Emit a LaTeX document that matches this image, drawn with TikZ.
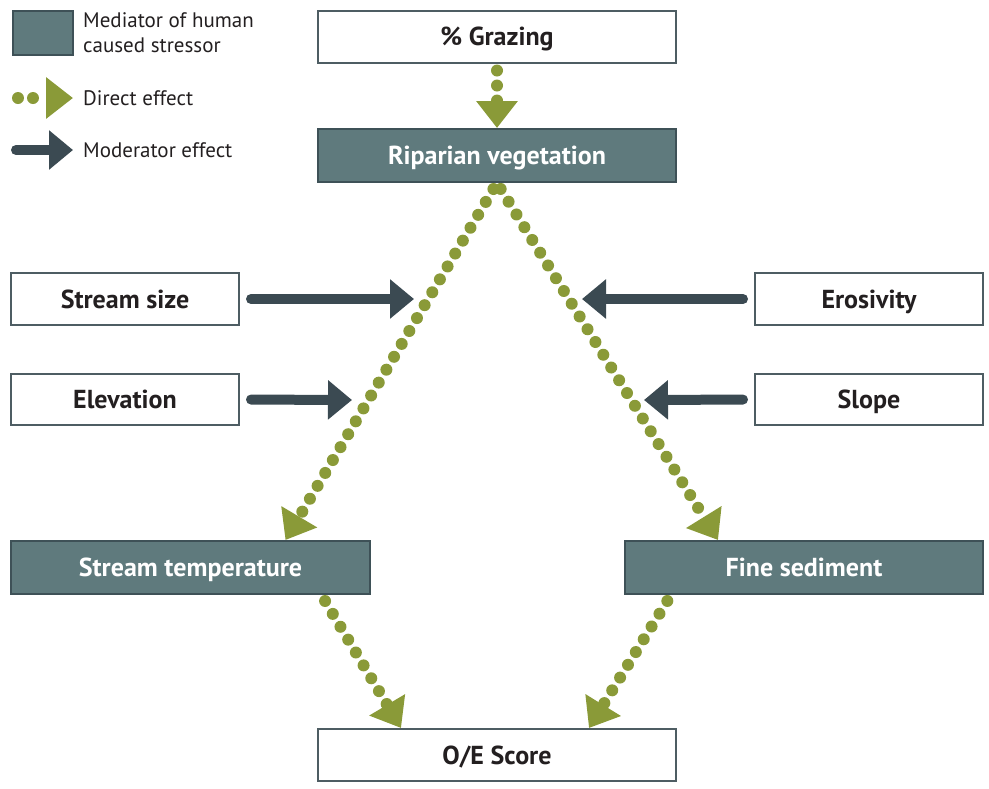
\documentclass[tikz,border=0pt]{standalone}
\usepackage{fontspec}
\setmainfont{PT Sans}
\usetikzlibrary{arrows.meta,calc}
\definecolor{tealfill}{HTML}{5F7A7D}
\definecolor{tealedge}{HTML}{3E5157}
\definecolor{boxedge}{HTML}{4E5D63}
\definecolor{dgreen}{HTML}{8A9A38}
\definecolor{slate}{HTML}{3B4A52}
\definecolor{txt}{HTML}{231F20}
\tikzset{
  boxfont/.style={font=\fontsize{26}{30}\selectfont\bfseries, inner sep=0pt,
    text height=18.5pt, text depth=0pt},
  whitebox/.style={draw=boxedge, line width=2pt, fill=white, text=txt, boxfont},
  mediator/.style={draw=tealedge, line width=2pt, fill=tealfill, text=white, boxfont},
  direct/.style={draw=dgreen, line width=12pt, line cap=round,
    dash pattern=on 0pt off 15pt,
    -{Triangle[width=40pt,length=27pt,fill=dgreen]}},
  moder/.style={draw=slate, line width=10pt, line cap=round,
    -{Triangle[width=38pt,length=24pt,fill=slate]}},
  legtext/.style={text=txt, font=\fontsize{21}{25}\selectfont, anchor=west, inner sep=0pt, align=left}
}
\begin{document}
\begin{tikzpicture}[x=1pt,y=-1pt]
\useasboundingbox (0,0) rectangle (989,788);
% legend
\node[draw=tealedge, line width=2pt, fill=tealfill, minimum width=60pt, minimum height=44pt, inner sep=0pt] (leg) at (43,33) {};
\node[legtext] (legt) at (83,33) {Mediator of human\\caused stressor};
\coordinate (d1) at (18,98);
\coordinate (d2) at (73,98);
\draw[direct] (d1) -- (d2);
\node[legtext] (dt) at (83,98) {Direct effect};
\coordinate (m1) at (16,150);
\coordinate (m2) at (73,150);
\draw[moder] (m1) -- (m2);
\node[legtext] (mt) at (83,150) {Moderator effect};
% boxes
\node[whitebox, minimum width=358pt, minimum height=52pt] (graz) at (497,36.5) {\% Grazing};
\node[mediator, minimum width=358pt, minimum height=53pt] (rip) at (497,155.5) {Riparian vegetation};
\node[whitebox, minimum width=228pt, minimum height=52pt] (ssize) at (125,299) {Stream size};
\node[whitebox, minimum width=228pt, minimum height=51pt] (elev) at (125,399.5) {Elevation};
\node[whitebox, minimum width=228pt, minimum height=52pt] (eros) at (869,299) {Erosivity};
\node[whitebox, minimum width=228pt, minimum height=51pt] (slope) at (869,399.5) {Slope};
\node[mediator, minimum width=359pt, minimum height=53pt] (stemp) at (190.5,567.5) {Stream temperature};
\node[mediator, minimum width=358pt, minimum height=53pt] (fsed) at (804,567.5) {Fine sediment};
\node[whitebox, minimum width=358pt, minimum height=52pt] (oe) at (497,755) {O/E Score};
% direct effects
\draw[direct, shorten <=7pt] (graz.south) -- (rip.north);
\draw[direct, shorten <=7pt] (rip.south) -- ([xshift=95pt]stemp.north);
\draw[direct, shorten <=7pt] (rip.south) -- ([xshift=-86pt]fsed.north);
\draw[direct, shorten <=7pt] ([xshift=131pt]stemp.south) -- ([xshift=-96pt]oe.north);
\draw[direct, shorten <=7pt] ([xshift=-133pt]fsed.south) -- ([xshift=92pt]oe.north);
% moderator effects
\coordinate (s1) at (414,299);
\coordinate (s2) at (352,400);
\coordinate (s3) at (582,299);
\coordinate (s4) at (644,400);
\draw[moder, shorten <=11pt] (ssize.east) -- (s1);
\draw[moder, shorten <=11pt] (elev.east) -- (s2);
\draw[moder, shorten <=11pt] (eros.west) -- (s3);
\draw[moder, shorten <=11pt] (slope.west) -- (s4);
\end{tikzpicture}
\end{document}
